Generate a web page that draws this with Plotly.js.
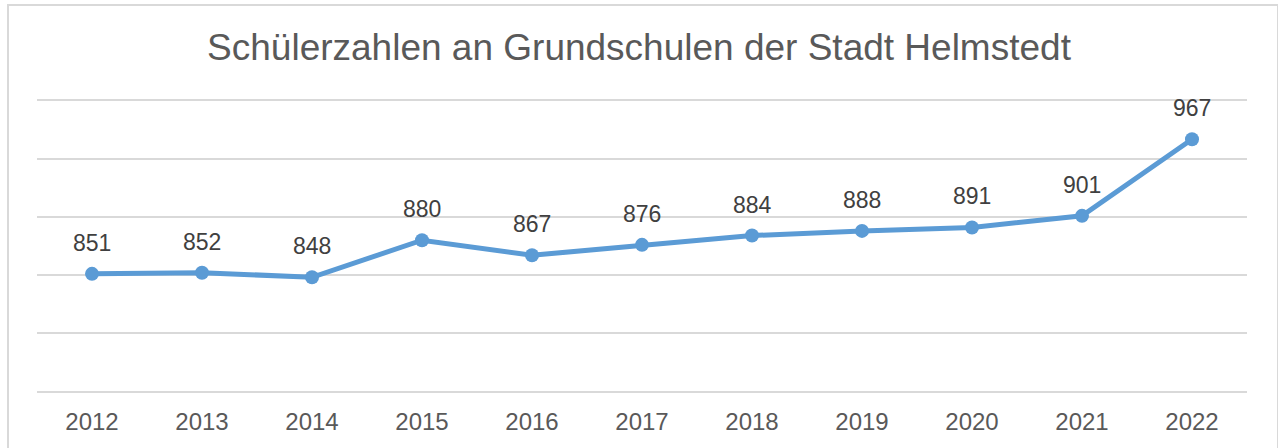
<!DOCTYPE html>
<html>
<head>
<meta charset="utf-8">
<script src="https://cdn.plot.ly/plotly-3.0.1.min.js"></script>
<style>
  html, body { margin: 0; padding: 0; background: #fff; }
  #wrap { position: relative; width: 1278px; height: 448px; overflow: hidden; }
  #chart { position: absolute; left: 0; top: 0; width: 1278px; height: 448px; }
  #frame { position: absolute; left: 7px; top: 4px; width: 1268px; height: 470px;
           border: 2px solid #d9d9d9; pointer-events: none; }
</style>
</head>
<body>
<div id="wrap">
  <div id="chart"></div>
  <div id="frame"></div>
</div>
<script>
const years = ['2012','2013','2014','2015','2016','2017','2018','2019','2020','2021','2022'];
const students = [851, 852, 848, 880, 867, 876, 884, 888, 891, 901, 967];
const chartTitle = 'Schülerzahlen an Grundschulen der Stadt Helmstedt';

const font = 'Arial, "Liberation Sans", sans-serif';

const trace = {
  x: years.map((_, i) => i),
  y: students,
  type: 'scatter',
  mode: 'lines+markers',
  line: { color: '#5B9BD5', width: 5 },
  marker: { color: '#5B9BD5', size: 14 },
  hoverinfo: 'y'
};

const annotations = years.map((yr, i) => ({
  x: i, y: students[i], xref: 'x', yref: 'y',
  text: String(students[i]), showarrow: false,
  xanchor: 'center', yanchor: 'middle', yshift: 31,
  font: { family: font, size: 23, color: '#404040' }
}));

const layout = {
  width: 1278, height: 448,
  margin: { l: 37, r: 31, t: 101, b: 57 },
  paper_bgcolor: 'rgba(0,0,0,0)', plot_bgcolor: '#fff',
  title: { text: chartTitle, x: 0.5, xanchor: 'center', y: 0.895, yanchor: 'middle',
           font: { family: font, size: 37, color: '#595959' } },
  showlegend: false,
  xaxis: {
    type: 'linear', range: [-0.5, 10.5],
    tickmode: 'array', tickvals: years.map((_, i) => i), ticktext: years,
    showgrid: false, zeroline: false,
    showline: true, mirror: true, linecolor: '#d9d9d9', linewidth: 2,
    ticks: '', tickfont: { family: font, size: 24, color: '#595959' },
    ticklabelstandoff: 8
  },
  yaxis: {
    range: [750, 1000], dtick: 50, tick0: 750,
    showgrid: true, gridcolor: '#d9d9d9', gridwidth: 2,
    zeroline: false, showticklabels: false, ticks: ''
  },
  annotations: annotations
};

Plotly.newPlot('chart', [trace], layout, { displayModeBar: false, staticPlot: true });
</script>
</body>
</html>
